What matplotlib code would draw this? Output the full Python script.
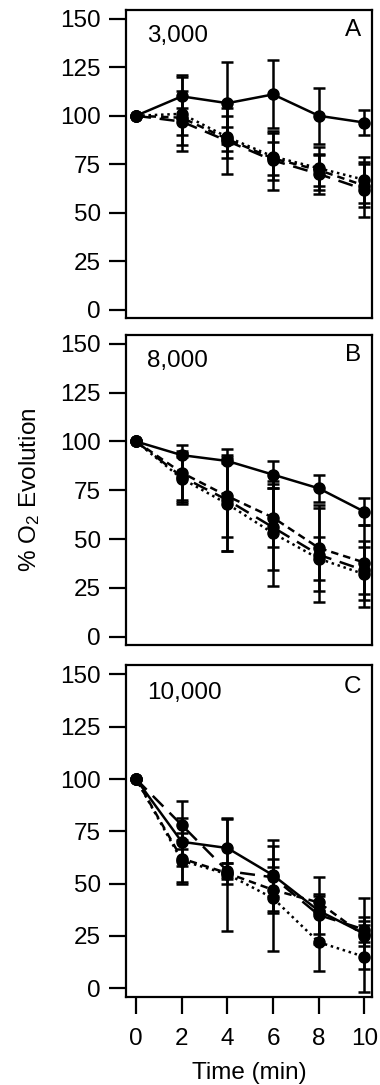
import matplotlib
matplotlib.use("Agg")
import matplotlib.pyplot as plt

plt.rcParams['font.family'] = ['Liberation Sans', 'DejaVu Sans']
plt.rcParams['mathtext.fontset'] = 'custom'
plt.rcParams['mathtext.rm'] = 'Liberation Sans'
plt.rcParams['mathtext.it'] = 'Liberation Sans'

time_min = [0, 2, 4, 6, 8, 10]

panel_names = ["3,000", "8,000", "10,000"]
panel_letters = ["A", "B", "C"]

# Panel A (3,000)
a_solid = [100, 110, 106.5, 111, 100, 96.5]
a_solid_err = [0, 11, 21, 17.5, 14.5, 6.5]
a_dotted = [100, 101, 89, 79, 73, 67]
a_dotted_err = [0, 19, 11, 12, 11, 12]
a_short = [100, 99, 88, 78, 72, 64]
a_short_err = [0, 14, 6, 8.5, 8, 11]
a_long = [100, 97, 87, 77, 70, 62]
a_long_err = [0, 7, 17, 15, 10.5, 14]

# Panel B (8,000)
b_solid = [100, 93, 90, 83, 76, 64]
b_solid_err = [0, 1, 1, 7, 7, 7]
b_dotted = [100, 81, 68, 53, 40, 32]
b_dotted_err = [0, 13, 24, 27, 11, 17]
b_short = [100, 84, 72, 61, 45.5, 38]
b_short_err = [0, 14, 21, 15, 22, 19]
b_long = [100, 82, 70, 56, 42, 34]
b_long_err = [0, 13, 26, 22, 24, 12]

# Panel C (10,000)
c_solid = [100, 70, 67, 54, 37, 26]
c_solid_err = [0, 11.5, 14, 17, 16, 17]
c_dotted = [100, 61, 54.5, 43, 22, 15]
c_dotted_err = [0, 10, 27, 25, 14, 17]
c_short = [100, 62, 55, 47, 41, 25]
c_short_err = [0, 12, 5, 11, 4, 5]
c_long = [100, 78, 56, 53, 35, 28]
c_long_err = [0, 11.5, 4, 9, 9, 6]

panels = [
    [(a_solid, a_solid_err), (a_dotted, a_dotted_err), (a_short, a_short_err), (a_long, a_long_err)],
    [(b_solid, b_solid_err), (b_dotted, b_dotted_err), (b_short, b_short_err), (b_long, b_long_err)],
    [(c_solid, c_solid_err), (c_dotted, c_dotted_err), (c_short, c_short_err), (c_long, c_long_err)],
]
line_styles = ['-', (0, (1, 1.5)), (0, (3, 2)), (0, (6, 3.5))]

y_ticks = [0, 25, 50, 75, 100, 125, 150]
x_ticks = [0, 2, 4, 6, 8, 10]

fig = plt.figure(figsize=(3.8, 10.85), dpi=100)
W, H = 380.0, 1085.0
left, right = 126, 372
boxes = [(10, 318), (335, 645), (665, 997)]

for i, (top, bot) in enumerate(boxes):
    ax = fig.add_axes([left / W, 1 - bot / H, (right - left) / W, (bot - top) / H])
    for (vals, errs), ls in zip(panels[i], line_styles):
        ax.errorbar(time_min, vals, yerr=errs, color='black', linestyle=ls,
                    linewidth=1.8, marker='o', markersize=8, elinewidth=1.8,
                    capsize=4.5, capthick=1.8)
    ax.set_xlim(-0.44, 10.33)
    ax.set_ylim(-4.2, 154.5)
    ax.set_yticks(y_ticks)
    ax.set_yticklabels([str(t) for t in y_ticks])
    for s in ax.spines.values():
        s.set_linewidth(1.6)
    ax.tick_params(axis='y', direction='out', length=12, width=1.6,
                   labelsize=17.5, pad=6)
    if i < 2:
        ax.tick_params(axis='x', bottom=False, labelbottom=False)
    else:
        ax.set_xticks(x_ticks)
        ax.set_xticklabels([str(t) for t in x_ticks])
        ax.tick_params(axis='x', direction='out', length=12, width=1.6,
                       labelsize=17.5, pad=10)
        ax.set_xlabel("Time (min)", fontsize=17.5, labelpad=9)
    ax.text(0.085, 0.915, panel_names[i], transform=ax.transAxes,
            fontsize=17.5, ha='left', va='center')
    ax.text(0.955, 0.935, panel_letters[i], transform=ax.transAxes,
            fontsize=17.5, ha='right', va='center')

fig.text(30 / W, 1 - 490 / H, "% O$_2$ Evolution", rotation=90,
         ha='center', va='center', fontsize=17.5)

fig.savefig("out.png", dpi=100)
